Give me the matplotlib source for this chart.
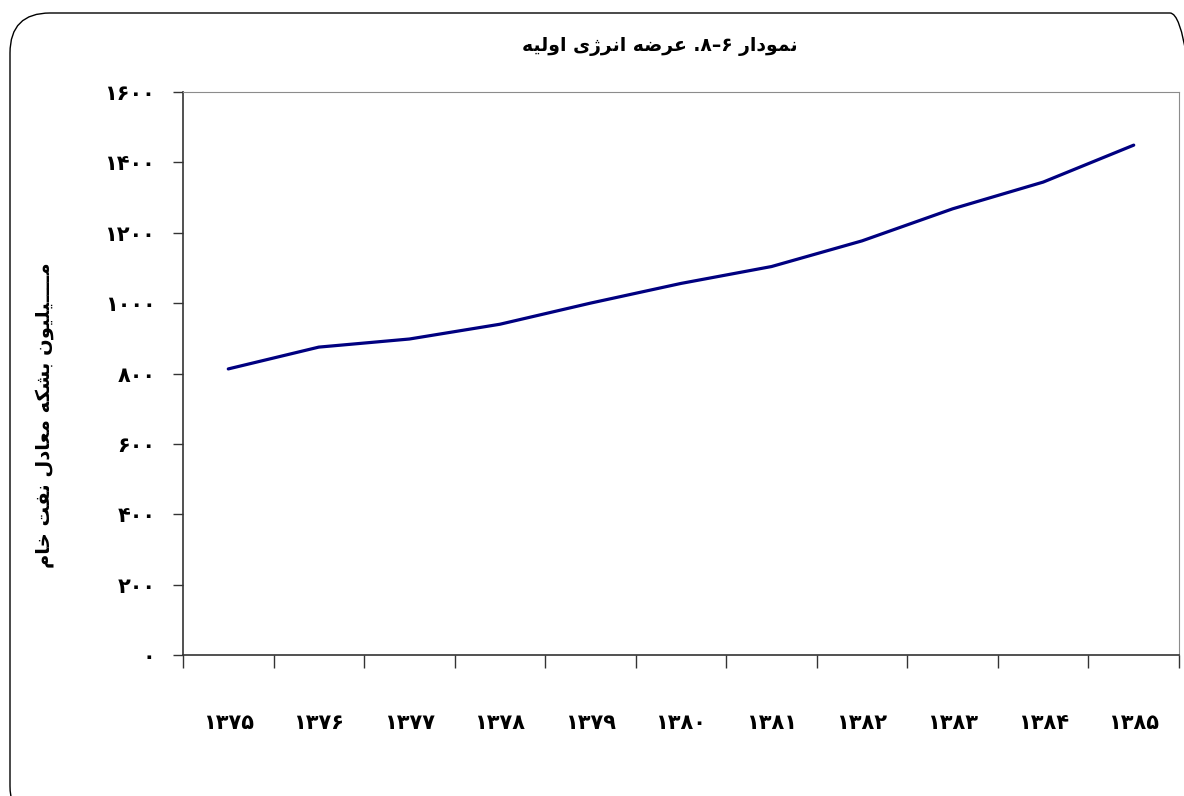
import matplotlib
matplotlib.use("Agg")
from matplotlib import pyplot as plt
from matplotlib.patches import FancyBboxPatch

# Primary energy supply, million barrels of crude oil equivalent
years = ["۱۳۷۵", "۱۳۷۶", "۱۳۷۷", "۱۳۷۸", "۱۳۷۹", "۱۳۸۰",
         "۱۳۸۱", "۱۳۸۲", "۱۳۸۳", "۱۳۸۴", "۱۳۸۵"]
supply = [813, 875, 898, 940, 1000, 1056, 1104, 1177, 1268, 1344, 1449]
y_ticks = [0, 200, 400, 600, 800, 1000, 1200, 1400, 1600]

title_words = ["نمودار", ".۸–۶", "عرضه", "انرژی", "اولیه"]
ylabel_words = ["مــــیلیون", "بشکه", "معادل", "نفت", "خام"]

# minimal Persian shaping (matplotlib has no complex text layout)
FORMS = {
    'ا': ('\uFE8D', '\uFE8E', None, None),
    'ب': ('\uFE8F', '\uFE90', '\uFE91', '\uFE92'),
    'ت': ('\uFE95', '\uFE96', '\uFE97', '\uFE98'),
    'خ': ('\uFEA5', '\uFEA6', '\uFEA7', '\uFEA8'),
    'د': ('\uFEA9', '\uFEAA', None, None),
    'ر': ('\uFEAD', '\uFEAE', None, None),
    'ز': ('\uFEAF', '\uFEB0', None, None),
    'ژ': ('\uFB8A', '\uFB8B', None, None),
    'ش': ('\uFEB5', '\uFEB6', '\uFEB7', '\uFEB8'),
    'ض': ('\uFEBD', '\uFEBE', '\uFEBF', '\uFEC0'),
    'ع': ('\uFEC9', '\uFECA', '\uFECB', '\uFECC'),
    'ف': ('\uFED1', '\uFED2', '\uFED3', '\uFED4'),
    'ک': ('\uFB8E', '\uFB8F', '\uFB90', '\uFB91'),
    'ل': ('\uFEDD', '\uFEDE', '\uFEDF', '\uFEE0'),
    'م': ('\uFEE1', '\uFEE2', '\uFEE3', '\uFEE4'),
    'ن': ('\uFEE5', '\uFEE6', '\uFEE7', '\uFEE8'),
    'ه': ('\uFEE9', '\uFEEA', '\uFEEB', '\uFEEC'),
    'و': ('\uFEED', '\uFEEE', None, None),
    'ی': ('\uFBFC', '\uFBFD', '\uFBFE', '\uFBFF'),
}
TATWEEL = 'ـ'


def joins_next(c):
    return c == TATWEEL or (c in FORMS and FORMS[c][2] is not None)


def joins_prev(c):
    return c == TATWEEL or c in FORMS


def shape_word(word):
    if word[0] not in FORMS:
        return word
    out = []
    for i, c in enumerate(word):
        if c not in FORMS:
            out.append(c)
            continue
        p = i > 0 and joins_next(word[i - 1])
        n = i < len(word) - 1 and joins_prev(word[i + 1]) and joins_next(c)
        iso, fin, ini, med = FORMS[c]
        if p and n:
            out.append(med)
        elif p:
            out.append(fin)
        elif n:
            out.append(ini)
        else:
            out.append(iso)
    return "".join(reversed(out))


def rtl(words):
    return " ".join(shape_word(w) for w in reversed(words))


def fa_digits(v):
    return str(v).translate(str.maketrans("0123456789", "۰۱۲۳۴۵۶۷۸۹"))


plt.rcParams['font.family'] = ['DejaVu Sans']
plt.rcParams['font.weight'] = 'bold'

fig = plt.figure(figsize=(11.84, 7.96), dpi=100)
ax = fig.add_axes([183 / 1184, 1 - 655 / 796, 996 / 1184, 563 / 796])

x = list(range(len(years)))
ax.plot(x, supply, color="#000080", linewidth=2.3, solid_joinstyle="round",
        solid_capstyle="round")

ax.set_xlim(-0.5, len(years) - 0.5)
ax.set_ylim(0, 1600)
ax.set_yticks(y_ticks)
ax.set_yticklabels([fa_digits(v) for v in y_ticks])
ax.set_xticks(x)
ax.set_xticklabels(years)
ax.set_xticks([i - 0.5 for i in range(len(years) + 1)], minor=True)
ax.tick_params(axis="x", which="major", length=0, pad=42, labelsize=15)
ax.tick_params(axis="x", which="minor", length=9, width=1, color="#333333", direction="out")
ax.tick_params(axis="y", length=7, width=1, color="#333333", pad=13, labelsize=15)

for side in ("top", "right"):
    ax.spines[side].set_color("#8c8c8c")
for side in ("left", "bottom"):
    ax.spines[side].set_color("#333333")
    ax.spines[side].set_linewidth(1.2)

fig.text(660 / 1184, 1 - 47 / 796, rtl(title_words), ha="center", va="center",
         fontsize=13.5, fontweight="bold")
fig.text(45 / 1184, 1 - 415 / 796, rtl(ylabel_words), ha="center", va="center",
         rotation=90, fontsize=14, fontweight="bold")

# rounded outer frame, drawn in pixel coordinates
frame = FancyBboxPatch((10, -30), 1200, 813,
                       boxstyle="round,pad=0,rounding_size=40",
                       transform=None, facecolor="none",
                       edgecolor="black", linewidth=1.0)
fig.patches.append(frame)

fig.savefig("out.png", dpi=100)
